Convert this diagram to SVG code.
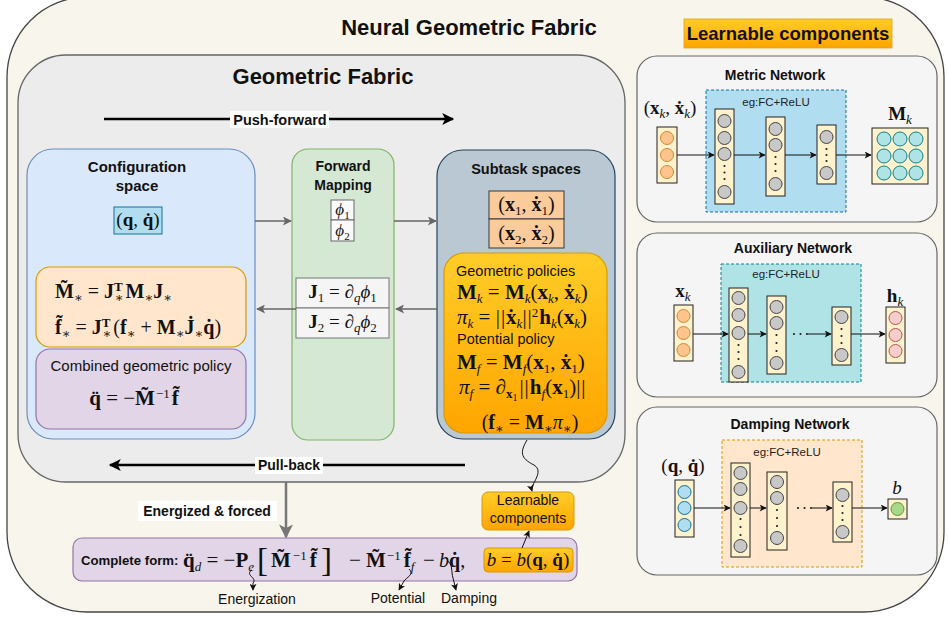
<svg xmlns="http://www.w3.org/2000/svg" width="948" height="617" viewBox="0 0 948 617">
<style>
.sans{font-family:"Liberation Sans",Arial,sans-serif;fill:#111}
.t14{font-size:14px}
.bold{font-weight:bold}
.m{font-family:"Liberation Serif","DejaVu Serif",serif;font-size:19px;fill:#111}
.m20{font-size:20px}
.m21{font-size:21px}
.b{font-weight:bold}
.i{font-style:italic}
.sb{font-size:13px;baseline-shift:-4px}
.ssb{font-size:10px;baseline-shift:-7px}
.sp{font-size:13px;baseline-shift:7px}
.panel{fill:#f5f5f5;stroke:#666;stroke-width:1.2}
.col{fill:#fff2cc;stroke:#222;stroke-width:1}
.cg{fill:#c8c8c8;stroke:#444;stroke-width:1}
.co{fill:#ffc48c;stroke:#c98a3a;stroke-width:1}
.ct{fill:#b0e3e6;stroke:#0e8088;stroke-width:1}
.cp{fill:#f8cecc;stroke:#b85450;stroke-width:1}
.cb{fill:#b1ddf0;stroke:#10739e;stroke-width:1}
.dot{fill:#222}
.net{stroke:#111;stroke-width:1;fill:none;marker-end:url(#ahS)}
.gr{stroke:#666;stroke-width:1.5;fill:none;marker-end:url(#ahG)}
.sq{stroke:#111;stroke-width:1;fill:none;marker-end:url(#ahS)}
.eg{font-family:"Liberation Sans",Arial,sans-serif;font-size:11.5px;fill:#222}
</style>
<defs>
<linearGradient id="og" x1="0" y1="0" x2="0" y2="1"><stop offset="0" stop-color="#ffcd28"/><stop offset="1" stop-color="#ffa500"/></linearGradient>
<marker id="ahB" viewBox="0 0 10 10" refX="9" refY="5" markerWidth="15" markerHeight="12" markerUnits="userSpaceOnUse" orient="auto"><path d="M0,0 L10,5 L0,10 L2.5,5 z" fill="#000"/></marker>
<marker id="ahG" viewBox="0 0 10 10" refX="9" refY="5" markerWidth="10" markerHeight="9" markerUnits="userSpaceOnUse" orient="auto"><path d="M0,0 L10,5 L0,10 L2.5,5 z" fill="#666"/></marker>
<marker id="ahGB" viewBox="0 0 10 10" refX="9" refY="5" markerWidth="15" markerHeight="14" markerUnits="userSpaceOnUse" orient="auto"><path d="M0,0 L10,5 L0,10 L2.5,5 z" fill="#777"/></marker>
<marker id="ahS" viewBox="0 0 10 10" refX="9" refY="5" markerWidth="8" markerHeight="7" markerUnits="userSpaceOnUse" orient="auto"><path d="M0,0 L10,5 L0,10 L2.5,5 z" fill="#111"/></marker>
</defs>

<g id="neural-geometric-fabric">
<rect x="7" y="-3" width="937" height="615" rx="80" fill="#f8f6ec" stroke="#444" stroke-width="1.3"/>
<text class="sans bold" x="469" y="35" font-size="22" text-anchor="middle">Neural Geometric Fabric</text>
</g>

<g id="learnable-label">
<rect x="684" y="19" width="208" height="29" fill="url(#og)" stroke="#e0a020" stroke-width="0.8"/>
<text class="sans bold" x="788" y="40" font-size="18.5" text-anchor="middle">Learnable components</text>
</g>

<g id="geometric-fabric">
<rect x="18" y="55" width="607" height="427" rx="48" fill="#ececec" stroke="#666" stroke-width="1.3"/>
<text class="sans bold" x="323" y="84" font-size="22" text-anchor="middle">Geometric Fabric</text>
</g>

<g id="configuration-space">
<rect x="27" y="149" width="228" height="290" rx="26" fill="#dae8fc" stroke="#6c8ebf" stroke-width="1.2"/>
<text class="sans bold" font-size="15" x="137" y="172" text-anchor="middle">Configuration</text>
<text class="sans bold" font-size="15" x="137" y="191" text-anchor="middle">space</text>
<rect x="114" y="207" width="48" height="27" fill="#b1ddf0" stroke="#10739e"/>
<text class="m" x="138" y="226" text-anchor="middle">(<tspan class="b">q</tspan>, <tspan class="b">q̇</tspan>)</text>
</g>

<g id="pullback-formulas">
<rect x="36" y="267" width="210" height="80" rx="14" fill="#ffe6cc" stroke="#d79b00" stroke-width="1.2"/>
<text class="m m20" x="55" y="298"><tspan class="b">M̃</tspan><tspan class="sb">∗</tspan> = <tspan class="b">J</tspan><tspan class="sp b">T</tspan><tspan class="sb" dx="-8">∗</tspan><tspan class="b" dx="2">M</tspan><tspan class="sb">∗</tspan><tspan class="b">J</tspan><tspan class="sb">∗</tspan></text>
<text class="m m20" x="55" y="334"><tspan class="b">f̃</tspan><tspan class="sb">∗</tspan> = <tspan class="b">J</tspan><tspan class="sp b">T</tspan><tspan class="sb" dx="-8">∗</tspan><tspan dx="2">(</tspan><tspan class="b">f</tspan><tspan class="sb">∗</tspan> + <tspan class="b">M</tspan><tspan class="sb">∗</tspan><tspan class="b">J̇</tspan><tspan class="sb">∗</tspan><tspan class="b">q̇</tspan>)</text>
</g>

<g id="combined-policy">
<rect x="36" y="349" width="210" height="80" rx="14" fill="#e1d5e7" stroke="#9673a6" stroke-width="1.2"/>
<text class="sans" font-size="15" x="141" y="371" text-anchor="middle">Combined geometric policy</text>
<text class="m m21" x="134" y="405" text-anchor="middle"><tspan class="b">q̈</tspan> = −<tspan class="b">M̃</tspan><tspan class="sp" dx="1">−1</tspan><tspan class="b" dx="2">f̃</tspan></text>
</g>

<g id="forward-mapping">
<rect x="292" y="149" width="102" height="291" rx="16" fill="#d5e8d4" stroke="#82b366" stroke-width="1.2"/>
<text class="sans bold t14" x="343" y="171" text-anchor="middle">Forward</text>
<text class="sans bold t14" x="343" y="190" text-anchor="middle">Mapping</text>
<rect x="331" y="200" width="23" height="20" fill="#fafafa" stroke="#666"/>
<rect x="331" y="220" width="23" height="21" fill="#fafafa" stroke="#666"/>
<text class="m" x="342.5" y="215" style="font-size:17px" text-anchor="middle"><tspan class="i">ϕ</tspan><tspan class="sb" style="font-size:11px">1</tspan></text>
<text class="m" x="342.5" y="236" style="font-size:17px" text-anchor="middle"><tspan class="i">ϕ</tspan><tspan class="sb" style="font-size:11px">2</tspan></text>
<rect x="296" y="278" width="93" height="30" fill="#f5f5f5" stroke="#777"/>
<rect x="296" y="308" width="93" height="30" fill="#f5f5f5" stroke="#777"/>
<text class="m" x="342.5" y="298" text-anchor="middle"><tspan class="b">J</tspan><tspan class="sb">1</tspan> = <tspan class="i">∂</tspan><tspan class="sb i">q</tspan><tspan class="i">ϕ</tspan><tspan class="sb">1</tspan></text>
<text class="m" x="342.5" y="328" text-anchor="middle"><tspan class="b">J</tspan><tspan class="sb">2</tspan> = <tspan class="i">∂</tspan><tspan class="sb i">q</tspan><tspan class="i">ϕ</tspan><tspan class="sb">2</tspan></text>
</g>

<g id="subtask-spaces">
<rect x="437" y="150" width="178" height="289" rx="26" fill="#bac8d3" stroke="#23445d" stroke-width="1.2"/>
<text class="sans bold" font-size="14.5" x="526" y="174" text-anchor="middle">Subtask spaces</text>
<rect x="489" y="191" width="75" height="28" fill="#fbcb9b" stroke="#36393d"/>
<rect x="489" y="219" width="75" height="29" fill="#fbcb9b" stroke="#36393d"/>
<text class="m m20" x="526.5" y="211" text-anchor="middle">(<tspan class="b">x</tspan><tspan class="sb">1</tspan>, <tspan class="b">ẋ</tspan><tspan class="sb">1</tspan>)</text>
<text class="m m20" x="526.5" y="240" text-anchor="middle">(<tspan class="b">x</tspan><tspan class="sb">2</tspan>, <tspan class="b">ẋ</tspan><tspan class="sb">2</tspan>)</text>
</g>

<g id="subtask-policies">
<rect x="444" y="253" width="163" height="180" rx="20" fill="url(#og)" stroke="#d79b00" stroke-width="1.2"/>
<text class="sans" font-size="14.5" x="456" y="276">Geometric policies</text>
<text class="m m21" x="457" y="299"><tspan class="b">M</tspan><tspan class="sb i">k</tspan> = <tspan class="b">M</tspan><tspan class="sb i">k</tspan>(<tspan class="b">x</tspan><tspan class="sb i">k</tspan>, <tspan class="b">ẋ</tspan><tspan class="sb i">k</tspan>)</text>
<text class="m m21" x="457" y="324"><tspan class="i">π</tspan><tspan class="sb i">k</tspan> = |<tspan dx="1">|</tspan><tspan class="b" dx="1">ẋ</tspan><tspan class="sb i">k</tspan>|<tspan dx="1">|</tspan><tspan class="sp">2</tspan><tspan class="b" dx="1">h</tspan><tspan class="sb i">k</tspan>(<tspan class="b">x</tspan><tspan class="sb i">k</tspan>)</text>
<text class="sans" font-size="14.5" x="457" y="344">Potential policy</text>
<text class="m m21" x="457" y="369"><tspan class="b">M</tspan><tspan class="sb i">f</tspan> = <tspan class="b">M</tspan><tspan class="sb i">f</tspan>(<tspan class="b">x</tspan><tspan class="sb">1</tspan>, <tspan class="b">ẋ</tspan><tspan class="sb">1</tspan>)</text>
<text class="m m21" x="459" y="394"><tspan class="i">π</tspan><tspan class="sb i">f</tspan> = <tspan class="i">∂</tspan><tspan class="sb b">x</tspan><tspan class="ssb">1</tspan><tspan dx="2">|</tspan><tspan dx="1">|</tspan><tspan class="b" dx="1">h</tspan><tspan class="sb i">f</tspan>(<tspan class="b">x</tspan><tspan class="sb">1</tspan>)|<tspan dx="1">|</tspan></text>
<text class="m m20" x="530" y="429" text-anchor="middle">(<tspan class="b">f</tspan><tspan class="sb">∗</tspan> = <tspan class="b">M</tspan><tspan class="sb">∗</tspan><tspan class="i">π</tspan><tspan class="sb">∗</tspan>)</text>
</g>

<g id="learnable-components">
<rect x="482" y="492" width="92" height="38" rx="6" fill="url(#og)" stroke="#d79b00"/>
<text class="sans t14" x="528" y="505" text-anchor="middle">Learnable</text>
<text class="sans t14" x="528" y="523" text-anchor="middle">components</text>
</g>

<g id="complete-form">
<rect x="73" y="538" width="504" height="43" rx="9" fill="#e1d5e7" stroke="#9673a6" stroke-width="1.2"/>
<text class="sans bold" font-size="13.2" x="81" y="565">Complete form:</text>
<text class="m m21" x="183" y="567"><tspan class="b">q̈</tspan><tspan class="sb i">d</tspan> = −<tspan class="b">P</tspan><tspan class="sb i">e</tspan></text>
<text class="m" x="257" y="571" style="font-size:33px">[</text>
<text class="m m21" x="271" y="567"><tspan class="b">M̃</tspan><tspan class="sp" dx="2">−1</tspan><tspan class="b" dx="3">f̃</tspan></text>
<text class="m" x="321" y="571" style="font-size:33px">]</text>
<text class="m m21" x="349" y="567">−</text>
<text class="m m21" x="366" y="567"><tspan class="b">M̃</tspan><tspan class="sp" dx="1">−1</tspan><tspan class="b" dx="3">f̃</tspan><tspan class="sb i">f</tspan></text>
<text class="m m21" x="423" y="567">−</text>
<text class="m m20" x="439" y="567"><tspan class="i">b</tspan><tspan class="b">q̇</tspan>,</text>
<rect x="484" y="548" width="89" height="24" rx="4" fill="url(#og)" stroke="#d79b00"/>
<text class="m" x="528" y="566" text-anchor="middle"><tspan class="i">b</tspan> = <tspan class="i">b</tspan>(<tspan class="b">q</tspan>, <tspan class="b">q̇</tspan>)</text>
<text class="sans t14" x="257" y="604" text-anchor="middle">Energization</text>
<text class="sans t14" x="398" y="603" text-anchor="middle">Potential</text>
<text class="sans t14" x="469" y="603" text-anchor="middle">Damping</text>
</g>

<g id="metric-network">
<rect class="panel" x="637" y="56" width="300" height="166" rx="20"/>
<text class="sans bold t14" x="775" y="80" text-anchor="middle">Metric Network</text>
<rect x="706" y="90" width="140" height="122" fill="#b1ddf0" stroke="#10739e" stroke-dasharray="3 2"/>
<text class="eg" x="776" y="106" text-anchor="middle">eg:FC+ReLU</text>
<text class="m" x="670" y="114" text-anchor="middle">(<tspan class="b">x</tspan><tspan class="sb i">k</tspan>, <tspan class="b">ẋ</tspan><tspan class="sb i">k</tspan>)</text>
<rect class="col" x="657" y="127" width="20" height="56"/>
<circle class="co" cx="667" cy="138" r="6.5"/><circle class="co" cx="667" cy="155" r="6.5"/><circle class="co" cx="667" cy="172" r="6.5"/>
<rect class="col" x="715" y="109" width="19" height="95"/>
<circle class="cg" cx="724.5" cy="121" r="6.5"/><circle class="cg" cx="724.5" cy="138" r="6.5"/><circle class="cg" cx="724.5" cy="154" r="6.5"/><circle class="cg" cx="724.5" cy="192" r="6.5"/>
<circle class="dot" cx="724.5" cy="166" r="1.1"/><circle class="dot" cx="724.5" cy="172.5" r="1.1"/><circle class="dot" cx="724.5" cy="179" r="1.1"/>
<rect class="col" x="766" y="117" width="19" height="79"/>
<circle class="cg" cx="775.5" cy="129" r="6.5"/><circle class="cg" cx="775.5" cy="145" r="6.5"/><circle class="cg" cx="775.5" cy="184" r="6.5"/>
<circle class="dot" cx="775.5" cy="157" r="1.1"/><circle class="dot" cx="775.5" cy="164" r="1.1"/><circle class="dot" cx="775.5" cy="171" r="1.1"/>
<rect class="col" x="817" y="125" width="19" height="59"/>
<circle class="cg" cx="826.5" cy="137" r="6.5"/><circle class="cg" cx="826.5" cy="173" r="6.5"/>
<circle class="dot" cx="826.5" cy="149" r="1.1"/><circle class="dot" cx="826.5" cy="155" r="1.1"/><circle class="dot" cx="826.5" cy="161" r="1.1"/>
<rect class="col" x="872" y="128" width="56" height="56"/>
<circle class="ct" cx="884" cy="139" r="7"/><circle class="ct" cx="900" cy="139" r="7"/><circle class="ct" cx="916" cy="139" r="7"/>
<circle class="ct" cx="884" cy="156" r="7"/><circle class="ct" cx="900" cy="156" r="7"/><circle class="ct" cx="916" cy="156" r="7"/>
<circle class="ct" cx="884" cy="173" r="7"/><circle class="ct" cx="900" cy="173" r="7"/><circle class="ct" cx="916" cy="173" r="7"/>
<text class="m" x="900" y="120" text-anchor="middle"><tspan class="b">M</tspan><tspan class="sb i">k</tspan></text>
</g>

<g id="auxiliary-network">
<rect class="panel" x="637" y="233" width="300" height="164" rx="20"/>
<text class="sans bold t14" x="793" y="253" text-anchor="middle">Auxiliary Network</text>
<rect x="721" y="264" width="140" height="118" fill="#b0e3e6" stroke="#0e8088" stroke-dasharray="3 2"/>
<text class="eg" x="786" y="278" text-anchor="middle">eg:FC+ReLU</text>
<text class="m" x="683" y="297" text-anchor="middle"><tspan class="b">x</tspan><tspan class="sb i">k</tspan></text>
<rect class="col" x="674" y="305" width="19" height="56"/>
<circle class="co" cx="683.5" cy="316" r="6.5"/><circle class="co" cx="683.5" cy="333" r="6.5"/><circle class="co" cx="683.5" cy="350" r="6.5"/>
<rect class="col" x="729" y="288" width="19" height="94"/>
<circle class="cg" cx="738.5" cy="298" r="6.5"/><circle class="cg" cx="738.5" cy="315" r="6.5"/><circle class="cg" cx="738.5" cy="333" r="6.5"/><circle class="cg" cx="738.5" cy="372" r="6.5"/>
<circle class="dot" cx="738.5" cy="345" r="1.1"/><circle class="dot" cx="738.5" cy="352" r="1.1"/><circle class="dot" cx="738.5" cy="359" r="1.1"/>
<rect class="col" x="767" y="296" width="19" height="78"/>
<circle class="cg" cx="776.5" cy="307" r="6.5"/><circle class="cg" cx="776.5" cy="323" r="6.5"/><circle class="cg" cx="776.5" cy="363" r="6.5"/>
<circle class="dot" cx="776.5" cy="335" r="1.1"/><circle class="dot" cx="776.5" cy="343" r="1.1"/><circle class="dot" cx="776.5" cy="351" r="1.1"/>
<circle class="dot" cx="794" cy="334" r="1.1"/><circle class="dot" cx="800.5" cy="334" r="1.1"/><circle class="dot" cx="807" cy="334" r="1.1"/>
<rect class="col" x="832" y="307" width="19" height="58"/>
<circle class="cg" cx="841.5" cy="317" r="6.5"/><circle class="cg" cx="841.5" cy="355" r="6.5"/>
<circle class="dot" cx="841.5" cy="329" r="1.1"/><circle class="dot" cx="841.5" cy="336" r="1.1"/><circle class="dot" cx="841.5" cy="343" r="1.1"/>
<rect class="col" x="886" y="307" width="19" height="56"/>
<circle class="cp" cx="895.5" cy="318" r="6.5"/><circle class="cp" cx="895.5" cy="335" r="6.5"/><circle class="cp" cx="895.5" cy="351" r="6.5"/>
<text class="m" x="895" y="302" text-anchor="middle"><tspan class="b">h</tspan><tspan class="sb i">k</tspan></text>
</g>

<g id="damping-network">
<rect class="panel" x="637" y="407" width="300" height="168" rx="20"/>
<text class="sans bold t14" x="790" y="429" text-anchor="middle">Damping Network</text>
<rect x="722" y="440" width="140" height="127" fill="#ffe6cc" stroke="#d79b00" stroke-dasharray="3 2"/>
<text class="eg" x="787" y="456" text-anchor="middle">eg:FC+ReLU</text>
<text class="m" x="683" y="472" text-anchor="middle">(<tspan class="b">q</tspan>, <tspan class="b">q̇</tspan>)</text>
<rect class="col" x="675" y="480" width="19" height="57"/>
<circle class="cb" cx="684.5" cy="492" r="6.5"/><circle class="cb" cx="684.5" cy="508" r="6.5"/><circle class="cb" cx="684.5" cy="525" r="6.5"/>
<rect class="col" x="731" y="463" width="19" height="94"/>
<circle class="cg" cx="740.5" cy="473" r="6.5"/><circle class="cg" cx="740.5" cy="489" r="6.5"/><circle class="cg" cx="740.5" cy="508" r="6.5"/><circle class="cg" cx="740.5" cy="546" r="6.5"/>
<circle class="dot" cx="740.5" cy="519" r="1.1"/><circle class="dot" cx="740.5" cy="527" r="1.1"/><circle class="dot" cx="740.5" cy="535" r="1.1"/>
<rect class="col" x="767" y="472" width="20" height="78"/>
<circle class="cg" cx="777" cy="482" r="6.5"/><circle class="cg" cx="777" cy="498" r="6.5"/><circle class="cg" cx="777" cy="538" r="6.5"/>
<circle class="dot" cx="777" cy="510" r="1.1"/><circle class="dot" cx="777" cy="518" r="1.1"/><circle class="dot" cx="777" cy="526" r="1.1"/>
<circle class="dot" cx="798" cy="508" r="1.1"/><circle class="dot" cx="804.5" cy="508" r="1.1"/><circle class="dot" cx="811" cy="508" r="1.1"/>
<rect class="col" x="833" y="482" width="19" height="60"/>
<circle class="cg" cx="842.5" cy="495" r="6.5"/><circle class="cg" cx="842.5" cy="532" r="6.5"/>
<circle class="dot" cx="842.5" cy="506" r="1.1"/><circle class="dot" cx="842.5" cy="513" r="1.1"/><circle class="dot" cx="842.5" cy="520" r="1.1"/>
<rect class="col" x="888" y="499" width="19" height="20"/>
<circle cx="897.5" cy="509" r="6.5" fill="#a8d88a" stroke="#5c9a3a"/>
<text class="m i" x="897" y="494" text-anchor="middle">b</text>
</g>

<g id="connectors">
<line x1="104" y1="119" x2="453" y2="119" stroke="#000" stroke-width="2.5" marker-end="url(#ahB)"/>
<rect x="230" y="111" width="99" height="17" fill="#fff"/>
<text class="sans bold" font-size="14.5" x="280" y="125" text-anchor="middle">Push-forward</text>
<line x1="465" y1="465" x2="110" y2="465" stroke="#000" stroke-width="2.5" marker-end="url(#ahB)"/>
<rect x="255" y="457" width="68" height="17" fill="#fff"/>
<text class="sans bold t14" x="289" y="470" text-anchor="middle">Pull-back</text>
<path class="gr" d="M255,221 H291"/>
<path class="gr" d="M394,221 H436"/>
<path class="gr" d="M437,309 H396"/>
<path class="gr" d="M296,309 H257"/>
<line x1="286" y1="482" x2="286" y2="537" stroke="#777" stroke-width="2.5" marker-end="url(#ahGB)"/>
<rect x="138" y="501" width="139" height="20" fill="#fff"/>
<text class="sans bold t14" x="207" y="516" text-anchor="middle">Energized &amp; forced</text>
<path class="sq" d="M527,440 C520,452 520,458 534,465 C545,472 530,484 532,491"/>
<path class="sq" d="M522,548 L529,531"/>
<path class="sq" d="M252,570 C244,575 258,578 253,583 L253,590"/>
<path class="sq" d="M409,569 C415,574 406,578 404,581 L399,590"/>
<path class="sq" d="M447,561 C453,563 451,572 453,578 L456,590"/>
<path class="net" d="M677,155 H714"/>
<path class="net" d="M734,155 H765"/>
<path class="net" d="M785,155 H816"/>
<path class="net" d="M836,155 H871"/>
<path class="net" d="M693,334 H728"/>
<path class="net" d="M748,334 H766"/>
<path class="net" d="M808,334 H831"/>
<path class="net" d="M851,334 H885"/>
<path class="net" d="M694,508 H730"/>
<path class="net" d="M750,508 H766"/>
<path class="net" d="M812,508 H832"/>
<path class="net" d="M852,508 H887"/>
</g>
</svg>
